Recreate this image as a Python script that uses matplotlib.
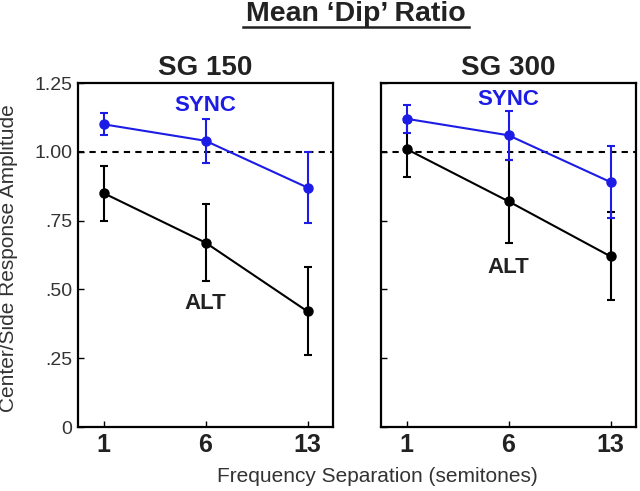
import numpy as np
import matplotlib.pyplot as plt

plt.rcParams['font.family'] = ['Liberation Sans', 'DejaVu Sans']

# Data
separations = ['1', '6', '13']
panel_titles = ['SG 150', 'SG 300']

sync_mean = [[1.10, 1.04, 0.87], [1.12, 1.06, 0.89]]
sync_err = [[0.04, 0.08, 0.13], [0.05, 0.09, 0.13]]
alt_mean = [[0.85, 0.67, 0.42], [1.01, 0.82, 0.62]]
alt_err = [[0.10, 0.14, 0.16], [0.10, 0.15, 0.16]]

ytick_vals = [0, 0.25, 0.50, 0.75, 1.00, 1.25]
ytick_labels = ['0', '.25', '.50', '.75', '1.00', '1.25']

# label positions (data coords) for SYNC / ALT text
sync_lab_y = [1.17, 1.19]
alt_lab_y = [0.45, 0.58]

BLUE = '#1c1ce6'
DARK = '#222222'

fig = plt.figure(figsize=(6.4, 4.91), dpi=100)
axes = [fig.add_axes([78/640, 1-427/491, 255/640, 344/491]),
        fig.add_axes([381/640, 1-427/491, 255/640, 344/491])]

x = np.arange(len(separations))
for i, ax in enumerate(axes):
    ax.axhline(1.0, color='black', lw=1.5, ls=(0, (3, 2.5)), zorder=1)
    ax.errorbar(x, alt_mean[i], yerr=alt_err[i], color='black', lw=1.5,
                marker='o', ms=6.5, capsize=2.8, elinewidth=1.5, capthick=1.5, zorder=3)
    ax.errorbar(x, sync_mean[i], yerr=sync_err[i], color=BLUE, lw=1.5,
                marker='o', ms=6.5, capsize=2.8, elinewidth=1.5, capthick=1.5, zorder=4)
    ax.text(1, sync_lab_y[i], 'SYNC', color=BLUE, fontsize=16, fontweight='bold',
            ha='center', va='center')
    ax.text(1, alt_lab_y[i], 'ALT', color=DARK, fontsize=16, fontweight='bold',
            ha='center', va='center')
    ax.set_xlim(-0.25, 2.25)
    ax.set_ylim(0, 1.25)
    ax.set_xticks(x)
    ax.set_xticklabels(separations, fontsize=18, fontweight='bold', color=DARK)
    ax.set_yticks(ytick_vals)
    if i == 0:
        ax.set_yticklabels(ytick_labels, fontsize=14, color='#333333')
    else:
        ax.set_yticklabels([])
    ax.tick_params(direction='in', length=4, width=1, pad=4)
    for s in ax.spines.values():
        s.set_linewidth(1.6)
    ax.set_title(panel_titles[i], fontsize=20, fontweight='bold', color=DARK, pad=6)

fig.text(356/640, 1-14/491, 'Mean \u2018Dip\u2019 Ratio', fontsize=20.5,
         fontweight='bold', color=DARK, ha='center', va='center')
# underline under the title
fig.add_artist(plt.Line2D([243/640, 469/640], [1-27/491, 1-27/491],
                          color=DARK, lw=1.8, transform=fig.transFigure))

fig.text(377/640, 1-477/491, 'Frequency Separation (semitones)', fontsize=15,
         color='#333333', ha='center', va='center')
fig.text(9/640, 1-258/491, 'Center/Side Response Amplitude', fontsize=15,
         color='#333333', ha='center', va='center', rotation=90)

fig.savefig('out.png', dpi=100)
